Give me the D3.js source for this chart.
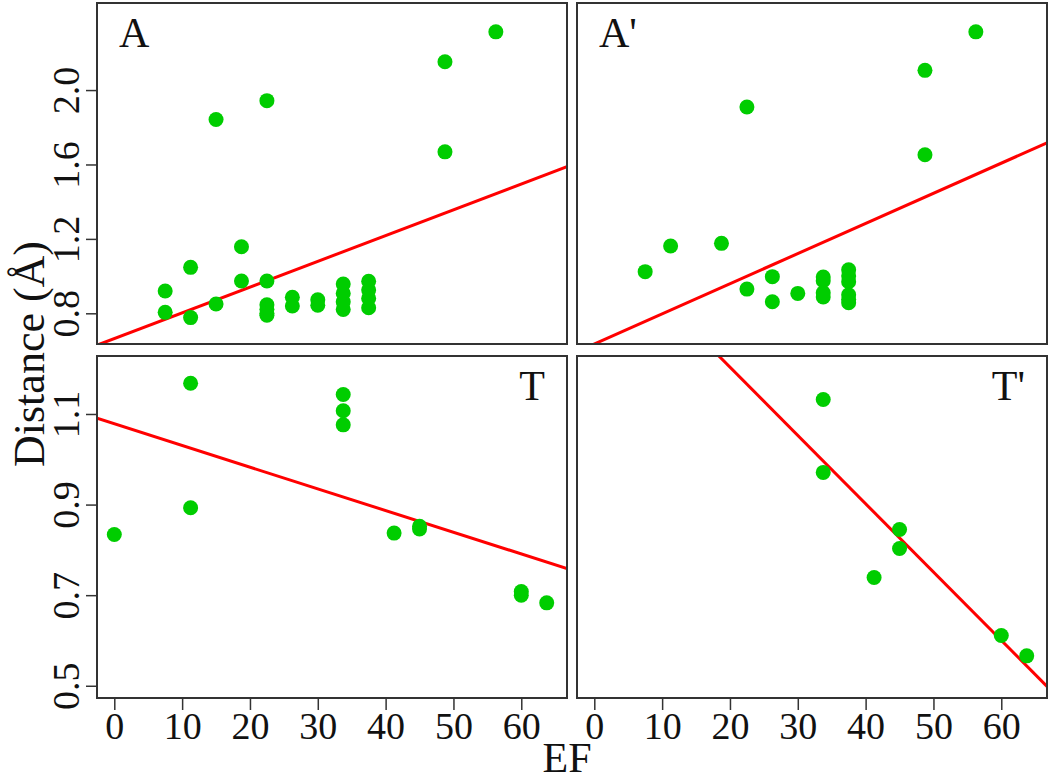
<!DOCTYPE html>
<html>
<head>
<meta charset="utf-8">
<script src="https://cdn.jsdelivr.net/npm/d3@7"></script>
<style>
  body { margin: 0; background: #fff; }
  text { font-family: "Liberation Serif", "DejaVu Serif", serif; fill: #111; }
</style>
</head>
<body>
<div id="chart"></div>
<script>
// panel names
var panelNames = ["A", "A'", "T", "T'"];

// EF / distance pairs, one array pair per panel
var efA   = [7.5, 7.5, 11.25, 11.25, 15, 15, 18.75, 18.75, 22.5, 22.5, 22.5, 22.5, 22.5, 22.5,
             26.25, 26.25, 30, 30, 33.75, 33.75, 33.75, 33.75, 37.5, 37.5, 37.5, 37.5, 48.75, 48.75, 56.25];
var distA = [0.92, 0.805, 1.047, 0.777, 1.842, 0.85, 1.158, 0.974, 1.943, 0.974, 0.846, 0.822, 0.80, 0.79,
             0.886, 0.839, 0.873, 0.843, 0.957, 0.907, 0.862, 0.821, 0.972, 0.925, 0.88, 0.83, 2.152, 1.668, 2.313];

var efA2   = [7.5, 11.25, 18.75, 22.5, 22.5, 26.25, 26.25, 30, 33.75, 33.75, 33.75, 33.75,
              37.5, 37.5, 37.5, 37.5, 37.5, 37.5, 48.75, 48.75, 56.25];
var distA2 = [1.024, 1.162, 1.176, 1.909, 0.93, 0.997, 0.862, 0.907, 0.995, 0.975, 0.91, 0.888,
              1.034, 1.0, 0.97, 0.9, 0.875, 0.857, 2.106, 1.652, 2.313];

var efT   = [0, 11.25, 11.25, 33.75, 33.75, 33.75, 41.25, 45, 45, 60, 60, 63.75];
var distT = [0.834, 1.168, 0.893, 1.143, 1.107, 1.076, 0.837, 0.852, 0.846, 0.708, 0.70, 0.683];

var efT2   = [33.75, 33.75, 41.25, 45, 45, 60, 63.75];
var distT2 = [1.132, 0.971, 0.739, 0.845, 0.803, 0.611, 0.566];

// regression lines: intercept, slope
var lineIntercepts = [0.664, 0.635, 1.0783, 1.505];
var lineSlopes     = [0.01384, 0.0162, -0.004788, -0.01508];

// tick labels
var xTicks = [0, 10, 20, 30, 40, 50, 60];
var yTicksTop = [0.8, 1.2, 1.6, 2.0];
var yTicksBottom = [0.5, 0.7, 0.9, 1.1];

var width = 1050, height = 783;
var green = "#00cd00", red = "#ff0000", frame = "#333";

var svg = d3.select("#chart").append("svg")
  .attr("width", width)
  .attr("height", height);

var cols = [{x0: 97, x1: 567}, {x0: 577, x1: 1047}];
var rows = [{y0: 3, y1: 344}, {y0: 356, y1: 698}];

var yDomains = [[0.635, 2.468], [0.473, 1.228]];
var xDomain = [-2.55, 66.74];

var panels = [
  {name: panelNames[0], ef: efA,  dist: distA,  r: 0, c: 0, labelPos: "left"},
  {name: panelNames[1], ef: efA2, dist: distA2, r: 0, c: 1, labelPos: "left"},
  {name: panelNames[2], ef: efT,  dist: distT,  r: 1, c: 0, labelPos: "right"},
  {name: panelNames[3], ef: efT2, dist: distT2, r: 1, c: 1, labelPos: "right"}
];

var defs = svg.append("defs");

panels.forEach(function(p, i) {
  var col = cols[p.c], row = rows[p.r];
  var x = d3.scaleLinear().domain(xDomain).range([col.x0, col.x1]);
  var y = d3.scaleLinear().domain(yDomains[p.r]).range([row.y1, row.y0]);

  defs.append("clipPath").attr("id", "clip" + i)
    .append("rect")
    .attr("x", col.x0).attr("y", row.y0)
    .attr("width", col.x1 - col.x0).attr("height", row.y1 - row.y0);

  var g = svg.append("g").attr("class", "panel");

  // fitted line
  var a = lineIntercepts[i], b = lineSlopes[i];
  g.append("line")
    .attr("clip-path", "url(#clip" + i + ")")
    .attr("x1", x(xDomain[0])).attr("y1", y(a + b * xDomain[0]))
    .attr("x2", x(xDomain[1])).attr("y2", y(a + b * xDomain[1]))
    .attr("stroke", red)
    .attr("stroke-width", 3);

  // points
  g.append("g").attr("clip-path", "url(#clip" + i + ")")
    .selectAll("circle")
    .data(d3.range(p.ef.length))
    .enter()
    .append("circle")
    .attr("cx", function(j) { return x(p.ef[j]); })
    .attr("cy", function(j) { return y(p.dist[j]); })
    .attr("r", 7.5)
    .attr("fill", green);

  // frame
  g.append("rect")
    .attr("x", col.x0).attr("y", row.y0)
    .attr("width", col.x1 - col.x0).attr("height", row.y1 - row.y0)
    .attr("fill", "none")
    .attr("stroke", frame)
    .attr("stroke-width", 2);

  // panel label
  g.append("text")
    .attr("x", p.labelPos == "left" ? col.x0 + 22 : col.x1 - 22)
    .attr("y", row.y0 + 44)
    .attr("text-anchor", p.labelPos == "left" ? "start" : "end")
    .style("font-size", "42px")
    .text(p.name);

  // x axis on bottom row
  if (p.r == 1) {
    var xAxis = d3.axisBottom(x).tickValues(xTicks).tickSize(12).tickSizeOuter(0).tickFormat(d3.format("d"));
    var ax = svg.append("g")
      .attr("transform", "translate(0," + row.y1 + ")")
      .call(xAxis);
    ax.select(".domain").remove();
    ax.selectAll("line").attr("stroke", frame).attr("stroke-width", 1.5);
    ax.selectAll("text")
      .attr("y", 0).attr("dy", 0)
      .attr("transform", "translate(0,41)")
      .style("font-size", "38px")
      .style("font-family", "Liberation Serif, serif")
      .attr("fill", "#111");
  }

  // y axis on left column
  if (p.c == 0) {
    var yAxis = d3.axisLeft(y).tickValues(p.r == 0 ? yTicksTop : yTicksBottom)
      .tickSize(11).tickSizeOuter(0).tickFormat(d3.format(".1f"));
    var ay = svg.append("g")
      .attr("transform", "translate(" + col.x0 + ",0)")
      .call(yAxis);
    ay.select(".domain").remove();
    ay.selectAll("line").attr("stroke", frame).attr("stroke-width", 1.5);
    ay.selectAll("text")
      .attr("x", 0).attr("dy", 0)
      .attr("text-anchor", "middle")
      .attr("transform", "translate(-18,0) rotate(-90)")
      .style("font-size", "38px")
      .style("font-family", "Liberation Serif, serif")
      .attr("fill", "#111");
  }
});

// axis titles
svg.append("text")
  .attr("transform", "translate(44,354) rotate(-90)")
  .attr("text-anchor", "middle")
  .style("font-size", "44px")
  .text("Distance (Å)");

svg.append("text")
  .attr("x", 567)
  .attr("y", 772)
  .attr("text-anchor", "middle")
  .style("font-size", "42px")
  .text("EF");
</script>
</body>
</html>
